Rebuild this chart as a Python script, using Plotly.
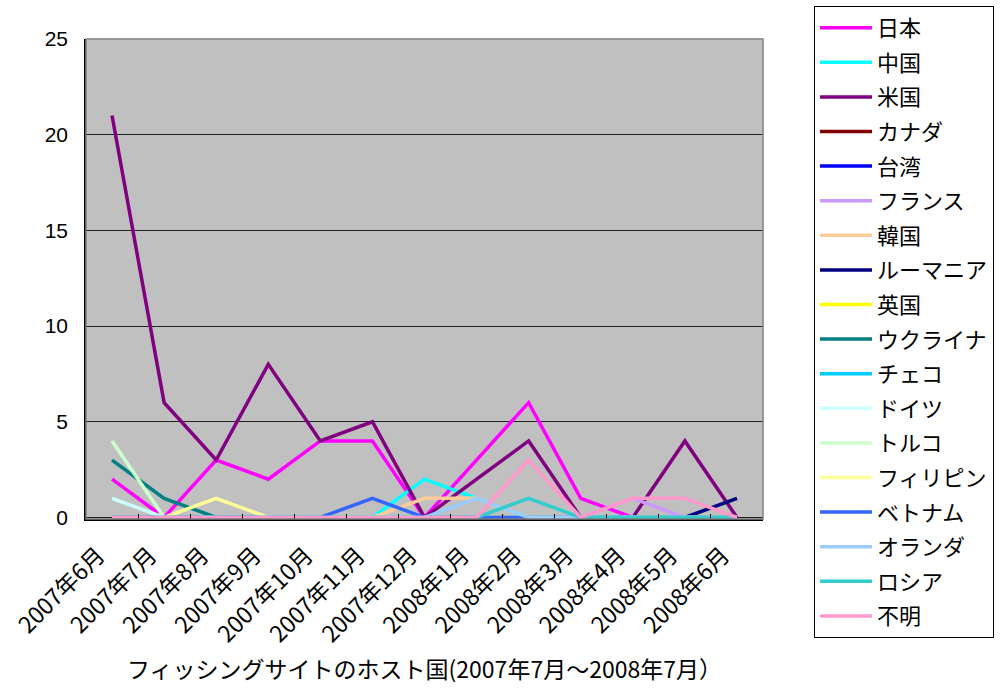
import plotly.graph_objects as go

months = ["2007年6月", "2007年7月", "2007年8月", "2007年9月", "2007年10月", "2007年11月",
          "2007年12月", "2008年1月", "2008年2月", "2008年3月", "2008年4月", "2008年5月", "2008年6月"]

japan       = [2, 0, 3, 2, 4, 4, 0, 3, 6, 1, 0, 0, 0]
china       = [0, 0, 0, 0, 0, 0, 2, 1, 0, 0, 0, 0, 0]
usa         = [21, 6, 3, 8, 4, 5, 0, 2, 4, 0, 0, 4, 0]
canada      = [0, 0, 0, 0, 0, 0, 0, 0, 0, 0, 0, 0, 0]
taiwan      = [0, 0, 0, 0, 0, 0, 0, 0, 0, 0, 0, 0, 0]
france      = [0, 0, 0, 0, 0, 0, 0, 0, 0, 0, 1, 0, 0]
korea       = [0, 0, 0, 0, 0, 0, 1, 1, 0, 0, 0, 0, 0]
romania     = [0, 0, 0, 0, 0, 0, 0, 0, 0, 0, 0, 0, 1]
uk          = [0, 0, 0, 0, 0, 0, 0, 0, 0, 0, 0, 0, 0]
ukraine     = [3, 1, 0, 0, 0, 0, 0, 0, 0, 0, 0, 0, 0]
czech       = [0, 0, 0, 0, 0, 0, 0, 0, 0, 0, 0, 0, 0]
germany     = [1, 0, 0, 0, 0, 0, 0, 0, 0, 0, 0, 0, 0]
turkey      = [4, 0, 0, 0, 0, 0, 0, 0, 0, 0, 0, 0, 0]
philippines = [0, 0, 1, 0, 0, 0, 0, 0, 0, 0, 0, 0, 0]
vietnam     = [0, 0, 0, 0, 0, 1, 0, 0, 0, 0, 0, 0, 0]
netherlands = [0, 0, 0, 0, 0, 0, 0, 1, 0, 0, 0, 0, 0]
russia      = [0, 0, 0, 0, 0, 0, 0, 0, 1, 0, 0, 0, 0]
unknown     = [0, 0, 0, 0, 0, 0, 0, 0, 3, 0, 1, 1, 0]

series_names = ["日本", "中国", "米国", "カナダ", "台湾", "フランス", "韓国", "ルーマニア", "英国",
                "ウクライナ", "チェコ", "ドイツ", "トルコ", "フィリピン", "ベトナム", "オランダ", "ロシア", "不明"]
series_values = [japan, china, usa, canada, taiwan, france, korea, romania, uk,
                 ukraine, czech, germany, turkey, philippines, vietnam, netherlands, russia, unknown]
colors = ["#FF00FF", "#00FFFF", "#800080", "#800000", "#0000FF", "#CC99FF", "#FFCC99", "#000080",
          "#FFFF00", "#008080", "#00CCFF", "#CCFFFF", "#CCFFCC", "#FFFF99", "#3366FF", "#99CCFF",
          "#33CCCC", "#FF99CC"]

y_ticks = [0, 5, 10, 15, 20, 25]
x_title = "フィッシングサイトのホスト国(2007年7月～2008年7月）"

JP = "Noto Sans CJK JP"

fig = go.Figure()
for name, vals, col in zip(series_names, series_values, colors):
    fig.add_trace(go.Scatter(x=months, y=vals, name=name, mode="lines", legendgroup=name,
                             line=dict(color=col, width=3.5)))

fig.update_layout(
    width=1000, height=691,
    margin=dict(l=86, r=237, t=39, b=172, autoexpand=False),
    paper_bgcolor="white",
    plot_bgcolor="#C0C0C0",
    font=dict(family=JP, color="black"),
    legend=dict(
        x=1.0753, y=1.069, xanchor="left", yanchor="top",
        bordercolor="black", borderwidth=1, bgcolor="white",
        font=dict(family=JP, size=22),
        tracegroupgap=3, itemwidth=52, maxheight=680,
    ),
    xaxis=dict(
        type="category", range=[-0.5, 12.5],
        tickangle=-45, tickfont=dict(family=JP, size=23),
        ticks="inside", tickson="boundaries", ticklen=5, tickcolor="black",
        ticklabelshift=-14, ticklabelstandoff=12,
        showline=True, linecolor="black", linewidth=1.5,
        showgrid=False,
        title=dict(text=x_title, font=dict(family=JP, size=23), standoff=14),
    ),
    yaxis=dict(
        range=[-0.08, 25], tickvals=y_ticks,
        tickfont=dict(family="Liberation Sans", size=21),
        showline=True, linecolor="black", linewidth=1.5,
        showgrid=True, gridcolor="#222222", gridwidth=1,
        zeroline=False, ticks="", ticklabelstandoff=12,
    ),
    shapes=[dict(type="rect", xref="paper", yref="paper", x0=0, y0=0, x1=1, y1=1,
                 line=dict(color="#808080", width=1.5), layer="above")],
)

fig.write_html("out.html", config={"displayModeBar": False},
               post_script="document.body.style.margin='0';")
